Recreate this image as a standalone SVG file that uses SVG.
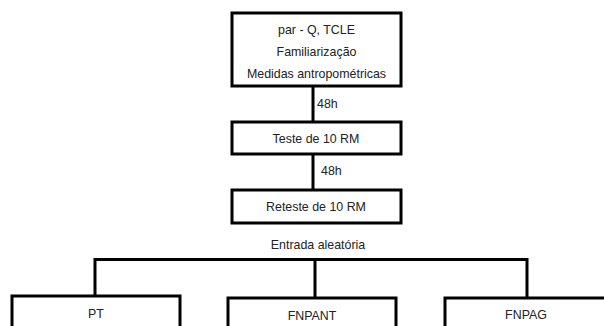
<svg xmlns="http://www.w3.org/2000/svg" width="604" height="326" viewBox="0 0 604 326">
<style>
.box{fill:#fff;stroke:#000;stroke-width:3}
.ln{fill:none;stroke:#000;stroke-width:3}
text{font-family:"Liberation Sans",Arial,sans-serif;font-size:12.4px;fill:#222;text-anchor:middle}
.l{text-anchor:start}
</style>
<rect width="604" height="326" fill="#fff"/>
<g id="connectors">
<line class="ln" x1="313" y1="86" x2="313" y2="122"/>
<line class="ln" x1="313" y1="154" x2="313" y2="190"/>
<polyline class="ln" points="95,296 95,259.5 527,259.5 527,298"/>
<line class="ln" x1="315" y1="259.5" x2="315" y2="298"/>
<text class="l" x="317" y="108">48h</text>
<text class="l" x="321" y="175">48h</text>
<text x="318" y="249">Entrada aleatória</text>
</g>
<g id="n1">
<rect class="box" x="232" y="13" width="169" height="73"/>
<text x="316.5" y="34">par - Q, TCLE</text>
<text x="316.5" y="56">Familiarização</text>
<text x="316.5" y="78">Medidas antropométricas</text>
</g>
<g id="n2">
<rect class="box" x="232" y="122" width="169" height="32"/>
<text x="316" y="143">Teste de 10 RM</text>
</g>
<g id="n3">
<rect class="box" x="232" y="190" width="169" height="33"/>
<text x="316" y="211">Reteste de 10 RM</text>
</g>
<g id="pt">
<rect class="box" x="12" y="296" width="168" height="40"/>
<text x="96" y="318">PT</text>
</g>
<g id="fnpant">
<rect class="box" x="228" y="298" width="168" height="40"/>
<text x="312" y="320">FNPANT</text>
</g>
<g id="fnpag">
<rect class="box" x="445" y="298" width="168" height="40"/>
<text x="526" y="319">FNPAG</text>
</g>
</svg>
